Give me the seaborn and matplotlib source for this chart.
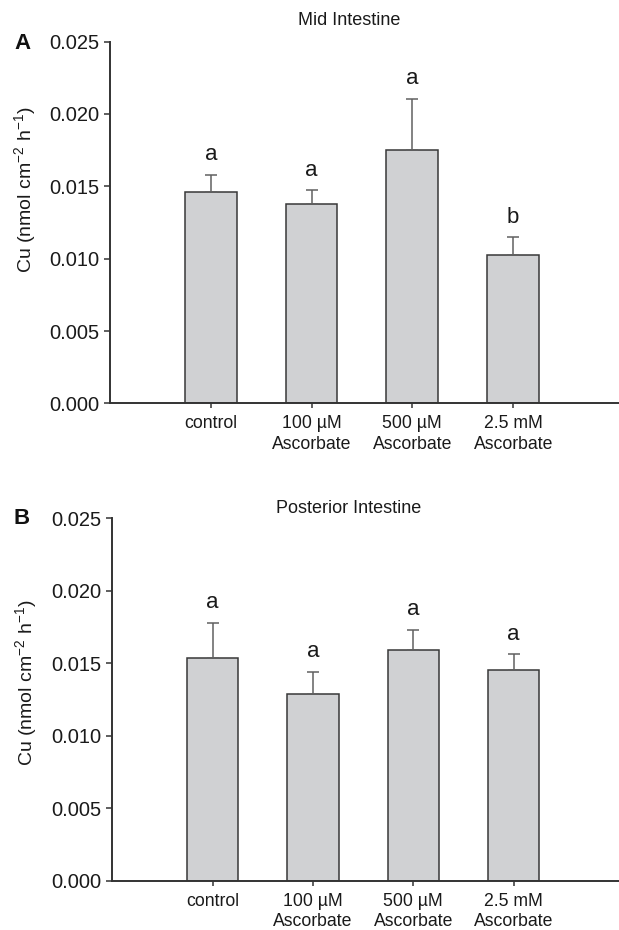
import matplotlib
matplotlib.use("Agg")
import matplotlib.pyplot as plt
import seaborn as sns
import pandas as pd

sns.set_theme(style="white")
plt.rcParams['font.family'] = ['Liberation Sans', 'DejaVu Sans']
plt.rcParams['mathtext.default'] = 'regular'

categories = ["control", "100 µM\nAscorbate", "500 µM\nAscorbate", "2.5 mM\nAscorbate"]

mid_means = [0.01459, 0.01380, 0.01753, 0.01027]
mid_errs = [0.00121, 0.00093, 0.00353, 0.00121]
mid_letters = ["a", "a", "a", "b"]

post_means = [0.01539, 0.01290, 0.01590, 0.01452]
post_errs = [0.00239, 0.00150, 0.00142, 0.00110]
post_letters = ["a", "a", "a", "a"]

yticks = [0.000, 0.005, 0.010, 0.015, 0.020, 0.025]
ytick_labels = ["0.000", "0.005", "0.010", "0.015", "0.020", "0.025"]

panels = [
    dict(means=mid_means, errs=mid_errs, letters=mid_letters, title="Mid Intestine", tag="A",
         rect=[0.1777, 0.5663, 0.8223, 0.3889], title_y=0.978, tag_y=0.953, ylab=(-0.141, 0.59)),
    dict(means=post_means, errs=post_errs, letters=post_letters, title="Posterior Intestine", tag="B",
         rect=[0.1814, 0.0529, 0.8186, 0.3898], title_y=0.453, tag_y=0.442, ylab=(-0.145, 0.546)),
]

fig = plt.figure(figsize=(6.19, 9.30), dpi=100)
bar_fill = "#d0d1d3"
edge = "#383838"
err_col = "#606060"
txt = "#1a1a1a"

for p in panels:
    ax = fig.add_axes(p["rect"])
    df = pd.DataFrame({"cat": categories, "val": p["means"]})
    sns.barplot(data=df, x="cat", y="val", order=categories, width=0.514, color=bar_fill,
                edgecolor=edge, linewidth=1.1, saturation=1, errorbar=None, ax=ax)
    xs = ax.get_xticks()
    ax.errorbar(xs, p["means"], yerr=[[0] * len(xs), p["errs"]], fmt="none", ecolor=err_col,
                elinewidth=1.1, capsize=4, capthick=1.1, zorder=1)
    for x, m, e, l in zip(xs, p["means"], p["errs"], p["letters"]):
        ax.annotate(l, (x, m + e), xytext=(0, 10.5), textcoords="offset points", ha="center",
                    va="baseline", fontsize=16, color=txt)
    ax.set_xlim(-1.0, 4.05)
    ax.set_ylim(0, 0.025)
    ax.set_yticks(yticks)
    ax.set_yticklabels(ytick_labels)
    ax.set_xlabel("")
    ax.set_ylabel("Cu (nmol cm$^{-2}$ h$^{-1}$)", fontsize=14, color=txt)
    ax.yaxis.set_label_coords(*p["ylab"])
    for s in ["top", "right"]:
        ax.spines[s].set_visible(False)
    for s in ["left", "bottom"]:
        ax.spines[s].set_color("#333333")
        ax.spines[s].set_linewidth(1.4)
    ax.tick_params(axis="y", which="both", left=True, direction="out", length=4, width=1.1,
                   color="#333333", labelsize=14.5, labelcolor=txt, pad=4)
    ax.tick_params(axis="x", which="both", bottom=True, direction="out", length=3.5, width=1.1,
                   color="#333333", labelsize=12.7, labelcolor=txt, pad=5)
    for lab in ax.get_xticklabels():
        lab.set_linespacing(1.28)
    ax.patch.set_alpha(0)
    fig.text(349 / 619, p["title_y"], p["title"], ha="center", va="center", fontsize=13, color=txt)
    fig.text(22 / 619, p["tag_y"], p["tag"], ha="center", va="center", fontsize=16,
             fontweight="bold", color="#111111")

fig.savefig("out.png", dpi=100)
